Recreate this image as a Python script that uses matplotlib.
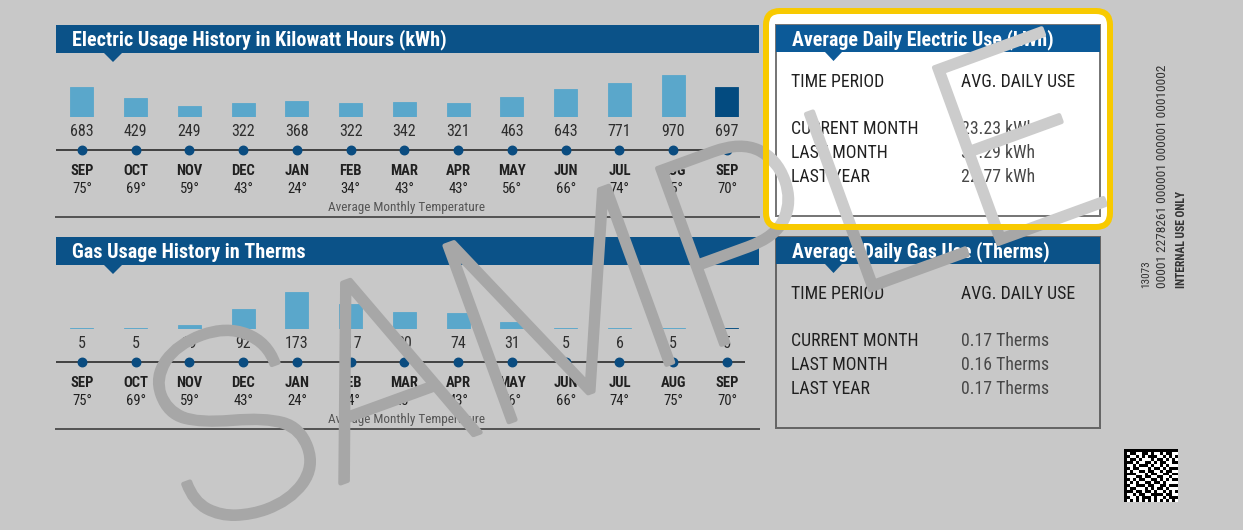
import matplotlib
matplotlib.use('Agg')
import matplotlib.pyplot as plt
import numpy as np
from matplotlib import font_manager as fm
from matplotlib import transforms as mtrans
from matplotlib import patheffects as pe
from matplotlib.patches import Rectangle, Polygon, FancyBboxPatch

# ---------------- data ----------------
months = ['SEP', 'OCT', 'NOV', 'DEC', 'JAN', 'FEB', 'MAR', 'APR', 'MAY', 'JUN', 'JUL', 'AUG', 'SEP']
temps = [75, 69, 59, 43, 24, 34, 43, 43, 56, 66, 74, 75, 70]
elec_kwh = [683, 429, 249, 322, 368, 322, 342, 321, 463, 643, 771, 970, 697]
gas_therms = [5, 5, 19, 92, 173, 117, 80, 74, 31, 5, 6, 5, 5]
periods = ['CURRENT MONTH', 'LAST MONTH', 'LAST YEAR']
elec_avg = ['23.23 kWh', '31.29 kWh', '22.77 kWh']
gas_avg = ['0.17 Therms', '0.16 Therms', '0.17 Therms']
elec_title = 'Electric Usage History in Kilowatt Hours (kWh)'
gas_title = 'Gas Usage History in Therms'
elec_box_title = 'Average Daily Electric Use (kWh)'
gas_box_title = 'Average Daily Gas Use (Therms)'
side_texts = ['13073', '00001 2278261 000001 000001 00010002', 'INTERNAL USE ONLY']
matrix_rows = [
    "111111111111111111",
    "101100110100101100",
    "110010101110010101",
    "101101000101101010",
    "111010011010110011",
    "100101110100101000",
    "110110001011010111",
    "101001101100101100",
    "111100010110011011",
    "100011011001100100",
    "110101100110101011",
    "101010011011010000",
    "110011101100110111",
    "101100010101101000",
    "111011011010010101",
    "100101100111101100",
    "110010111010010111",
    "101010101010101010",
]

# ---------------- style ----------------
W, H = 1243, 530
BG = '#c8c8c8'
NAVY = '#0b5288'
NAVY_HL = '#0c5a98'
BAR = '#5aa7cb'
BAR_CUR = '#034b80'
DOT = '#0a4c80'
TXT = '#202020'
VAL = '#2e2e2e'
SUB = '#555555'
WM = '#a7a7a7'
WM_LIGHT = '#cccccc'
YELLOW = '#f8ca00'
PT = 72.0 / 100.0  # points per pixel

names = {f.name for f in fm.fontManager.ttflist}
if 'Liberation Sans Narrow' in names:
    NARROW = dict(family='Liberation Sans Narrow')
elif 'Roboto Condensed' in names:
    NARROW = dict(family='Roboto Condensed')
elif any(f.name == 'DejaVu Sans' and f.stretch == 'condensed' for f in fm.fontManager.ttflist):
    NARROW = dict(family='DejaVu Sans', stretch='condensed')
else:
    NARROW = dict(family='Liberation Sans')


def wnum(f):
    w = f.weight
    if isinstance(w, str):
        w = fm.weight_dict.get(w, 400)
    return w


light_entry = None
for fam in ['Roboto', 'Open Sans', 'Lato', 'Inter', 'Noto Sans', 'Liberation Sans', 'DejaVu Sans']:
    c = [f for f in fm.fontManager.ttflist
         if f.name == fam and f.style == 'normal' and f.stretch == 'normal']
    if c:
        light_entry = min(c, key=wnum)
        break
wm_fp = fm.FontProperties(fname=light_entry.fname) if light_entry else fm.FontProperties()
wm_fp.set_size(190)
WM_STROKE = 4.5  # extra stroke in px
wm_effects = [pe.withStroke(linewidth=WM_STROKE * PT, foreground=WM)]
wm_effects_l = [pe.withStroke(linewidth=WM_STROKE * PT, foreground=WM_LIGHT)]
WM_XY = (628, 302)
WM_ROT = 20

fig = plt.figure(figsize=(W / 100, H / 100), dpi=100, facecolor=BG)


def overlay(z):
    a = fig.add_axes([0, 0, 1, 1], zorder=z)
    a.set_xlim(0, W)
    a.set_ylim(H, 0)
    a.axis('off')
    a.patch.set_visible(False)
    return a


bg = overlay(0)

# ---------------- usage history panels ----------------
STEP = 53.75
LEFT = 55.1


def panel(values, top, title, scale, ytop):
    base = top + 92
    hpx = base - ytop
    ax = fig.add_axes([LEFT / W, (H - base) / H, 13 * STEP / W, hpx / H], zorder=1)
    ax.set_xlim(-0.5, 12.5)
    ax.set_ylim(0, hpx / scale)
    ax.axis('off')
    ax.patch.set_visible(False)
    x = np.arange(len(values))
    cols = [BAR] * (len(values) - 1) + [BAR_CUR]
    ax.bar(x, values, width=23 / STEP, color=cols, edgecolor=cols, linewidth=0.6)
    blend = mtrans.blended_transform_factory(ax.transData, bg.transData)
    # header
    bg.add_patch(Rectangle((56, top), 703, 28, color=NAVY, lw=0))
    bg.add_patch(Polygon([(104, top + 28), (122, top + 28), (113, top + 37)], closed=True, color=NAVY, lw=0))
    bg.text(72, top + 15, title, color='white', fontsize=14.5, fontweight='bold', va='center', ha='left', **NARROW)
    # values
    for i, v in enumerate(values):
        bg.text(i, top + 107, str(v), transform=blend, ha='center', va='center', fontsize=11.5, color=VAL, **NARROW)
        bg.text(i, top + 146, months[i], transform=blend, ha='center', va='center', fontsize=10.5,
                fontweight='bold', color=TXT, **NARROW)
        bg.text(i, top + 164, f'{temps[i]}\u00b0', transform=blend, ha='center', va='center', fontsize=10.5,
                color=TXT, **NARROW)
    bg.plot([56, 745], [top + 125, top + 125], color='#444444', lw=2.0 * PT, solid_capstyle='butt')
    bg.plot(x, [top + 125] * len(x), 'o', transform=blend, color=DOT, ms=8.5 * PT, clip_on=False)
    bg.text(407, top + 183, 'Average Monthly Temperature', ha='center', va='center', fontsize=9.5, color=SUB, **NARROW)
    bg.plot([56, 759], [top + 192, top + 192], color='#555555', lw=2.0 * PT)
    return ax


panel(elec_kwh, 25, elec_title, 0.0435, 60)
panel(gas_therms, 237, gas_title, 0.216, 272)


# ---------------- average daily boxes ----------------
def avg_box(a, top, title, values, face, navy, ec):
    a.add_patch(Rectangle((776, top), 324, 191, facecolor=face, edgecolor=ec, lw=2.0 * PT, zorder=2))
    a.add_patch(Rectangle((776, top), 324, 27, color=navy, lw=0, zorder=3))
    a.add_patch(Polygon([(825, top + 27), (842, top + 27), (833.5, top + 36)], closed=True, color=navy, lw=0, zorder=3))
    a.text(792, top + 15, title, color='white', fontsize=14.3, fontweight='bold', va='center', ha='left',
           zorder=4, **NARROW)
    a.text(791, top + 57, 'TIME PERIOD', color=TXT, fontsize=12.8, va='center', ha='left', zorder=4, **NARROW)
    a.text(961, top + 57, 'AVG. DAILY USE', color=TXT, fontsize=12.8, va='center', ha='left', zorder=4, **NARROW)
    for k, (p, v) in enumerate(zip(periods, values)):
        a.text(791, top + 104 + 24 * k, p, color=TXT, fontsize=12.8, va='center', ha='left', zorder=4, **NARROW)
        a.text(961, top + 104 + 24 * k, v, color='#484848', fontsize=12.8, va='center', ha='left', zorder=4, **NARROW)


avg_box(bg, 237, gas_box_title, gas_avg, 'none', NAVY, '#666666')

# ---------------- side texts & data matrix ----------------
for xx, s, fs in zip([1146, 1163, 1182], side_texts, [8.0, 9.6, 8.4]):
    bg.text(xx, 288, s, rotation=90, ha='center', va='bottom', fontsize=fs,
            color='#333333', fontweight='bold' if s.startswith('INT') else 'normal', **NARROW)
mat = np.array([[int(ch) for ch in r[:18].ljust(18, '0')] for r in matrix_rows])
bg.imshow(mat, cmap='gray_r', extent=(1124, 1178, 502, 449), interpolation='nearest', aspect='auto', zorder=2)
bg.set_xlim(0, W)
bg.set_ylim(H, 0)

# ---------------- watermark ----------------
wm = overlay(5)
wm.text(WM_XY[0], WM_XY[1], 'SAMPLE', rotation=WM_ROT, rotation_mode='anchor', ha='center', va='center',
        color=WM, fontproperties=wm_fp, path_effects=wm_effects)

# ---------------- highlighted electric box ----------------
hl = overlay(6)
hl.add_patch(FancyBboxPatch((766, 11), 344, 216, boxstyle='round,pad=0,rounding_size=14',
                            facecolor='white', edgecolor='none', zorder=1))
avg_box(hl, 25, elec_box_title, elec_avg, 'white', NAVY_HL, '#777777')
clip = FancyBboxPatch((766, 11), 344, 216, boxstyle='round,pad=0,rounding_size=14',
                      facecolor='none', edgecolor='none', transform=hl.transData)
t2 = hl.text(WM_XY[0], WM_XY[1], 'SAMPLE', rotation=WM_ROT, rotation_mode='anchor', ha='center', va='center',
             color=WM_LIGHT, fontproperties=wm_fp, path_effects=wm_effects_l, zorder=8)
t2.set_clip_on(True)
t2.set_clip_box(None)
t2.set_clip_path(clip)
hl.add_patch(FancyBboxPatch((766, 11), 344, 216, boxstyle='round,pad=0,rounding_size=14',
                            facecolor='none', edgecolor=YELLOW, lw=6 * PT, zorder=9))

fig.savefig('out.png', dpi=100, facecolor=BG)
